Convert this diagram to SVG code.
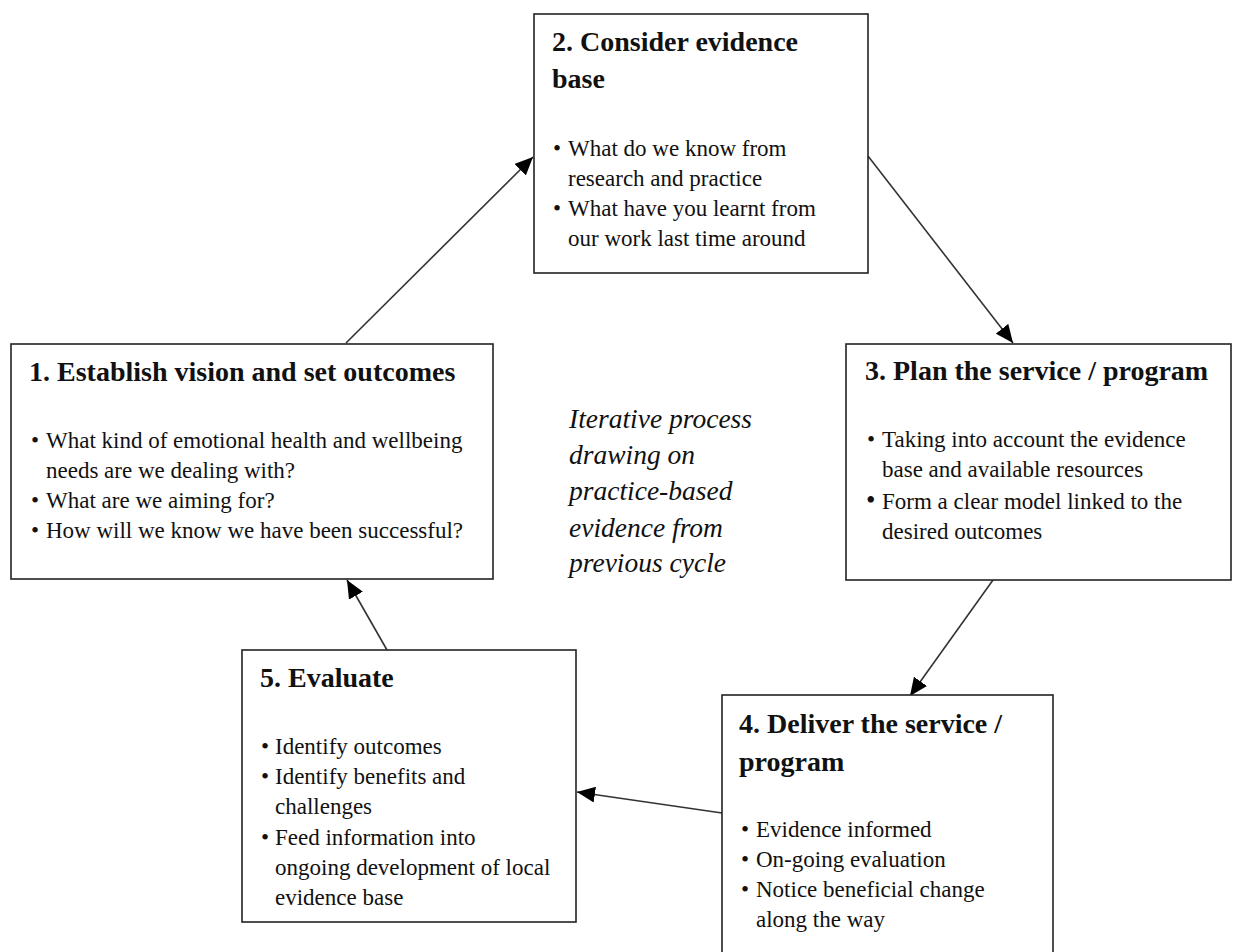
<svg xmlns="http://www.w3.org/2000/svg" width="1233" height="952" viewBox="0 0 1233 952">
  <style>
    .box { fill: #ffffff; stroke: #222222; stroke-width: 1.6; }
    .head { font-family: "Liberation Serif", "Times New Roman", serif; font-weight: bold; font-size: 28px; fill: #111111; }
    .body { font-family: "Liberation Serif", "Times New Roman", serif; font-size: 23px; fill: #111111; }
    .note { font-family: "Liberation Serif", "Times New Roman", serif; font-style: italic; font-size: 27.5px; fill: #111111; }
    .link { fill: none; stroke: #333333; stroke-width: 1.6; }
  </style>
  <defs>
    <marker id="arrow" markerUnits="userSpaceOnUse" markerWidth="20" markerHeight="16" refX="18" refY="8" orient="auto">
      <path d="M0,0 L18,8 L0,16 z" fill="#000000"/>
    </marker>
  </defs>
  <rect width="1233" height="952" fill="#ffffff"/>

  <!-- connectors around the cycle -->
  <g id="connectors">
    <line class="link" x1="346" y1="343" x2="533" y2="157" marker-end="url(#arrow)"/>
    <line class="link" x1="868" y1="156" x2="1013" y2="343" marker-end="url(#arrow)"/>
    <line class="link" x1="993" y1="580" x2="910" y2="696" marker-end="url(#arrow)"/>
    <line class="link" x1="722" y1="813" x2="577" y2="792" marker-end="url(#arrow)"/>
    <line class="link" x1="387" y1="650" x2="347" y2="580" marker-end="url(#arrow)"/>
  </g>

  <!-- step 1 -->
  <g id="step1">
    <rect class="box" x="11" y="344" width="482" height="235"/>
    <text class="head" x="29" y="381">1. Establish vision and set outcomes</text>
    <text class="body" x="31" y="448">•</text>
    <text class="body" x="46" y="448">What kind of emotional health and wellbeing</text>
    <text class="body" x="46" y="478">needs are we dealing with?</text>
    <text class="body" x="31" y="508">•</text>
    <text class="body" x="46" y="508">What are we aiming for?</text>
    <text class="body" x="31" y="538">•</text>
    <text class="body" x="46" y="538">How will we know we have been successful?</text>
  </g>

  <!-- step 2 -->
  <g id="step2">
    <rect class="box" x="534" y="14" width="334" height="259"/>
    <text class="head" x="552" y="51">2. Consider evidence</text>
    <text class="head" x="552" y="88">base</text>
    <text class="body" x="553" y="156">•</text>
    <text class="body" x="568" y="156">What do we know from</text>
    <text class="body" x="568" y="186">research and practice</text>
    <text class="body" x="553" y="216">•</text>
    <text class="body" x="568" y="216">What have you learnt from</text>
    <text class="body" x="568" y="246">our work last time around</text>
  </g>

  <!-- step 3 -->
  <g id="step3">
    <rect class="box" x="846" y="344" width="385" height="236"/>
    <text class="head" x="865" y="380">3. Plan the service / program</text>
    <text class="body" x="867" y="447">•</text>
    <text class="body" x="882" y="447">Taking into account the evidence</text>
    <text class="body" x="882" y="477">base and available resources</text>
    <text class="body" x="866" y="509" style="font-size:27px">•</text>
    <text class="body" x="882" y="509">Form a clear model linked to the</text>
    <text class="body" x="882" y="539">desired outcomes</text>
  </g>

  <!-- step 4 -->
  <g id="step4">
    <rect class="box" x="722" y="695" width="331" height="270"/>
    <text class="head" x="739" y="733">4. Deliver the service /</text>
    <text class="head" x="739" y="771">program</text>
    <text class="body" x="741" y="837">•</text>
    <text class="body" x="756" y="837">Evidence informed</text>
    <text class="body" x="741" y="867">•</text>
    <text class="body" x="756" y="867">On-going evaluation</text>
    <text class="body" x="741" y="897">•</text>
    <text class="body" x="756" y="897">Notice beneficial change</text>
    <text class="body" x="756" y="927">along the way</text>
  </g>

  <!-- step 5 -->
  <g id="step5">
    <rect class="box" x="242" y="650" width="334" height="272"/>
    <text class="head" x="260" y="687">5. Evaluate</text>
    <text class="body" x="261" y="754">•</text>
    <text class="body" x="275" y="754">Identify outcomes</text>
    <text class="body" x="261" y="784">•</text>
    <text class="body" x="275" y="784">Identify benefits and</text>
    <text class="body" x="275" y="814">challenges</text>
    <text class="body" x="261" y="845">•</text>
    <text class="body" x="275" y="845">Feed information into</text>
    <text class="body" x="275" y="875">ongoing development of local</text>
    <text class="body" x="275" y="905">evidence base</text>
  </g>

  <!-- centre note -->
  <g id="note">
    <text class="note" x="569" y="428">Iterative process</text>
    <text class="note" x="569" y="464">drawing on</text>
    <text class="note" x="569" y="500">practice-based</text>
    <text class="note" x="569" y="537">evidence from</text>
    <text class="note" x="569" y="572">previous cycle</text>
  </g>
</svg>
